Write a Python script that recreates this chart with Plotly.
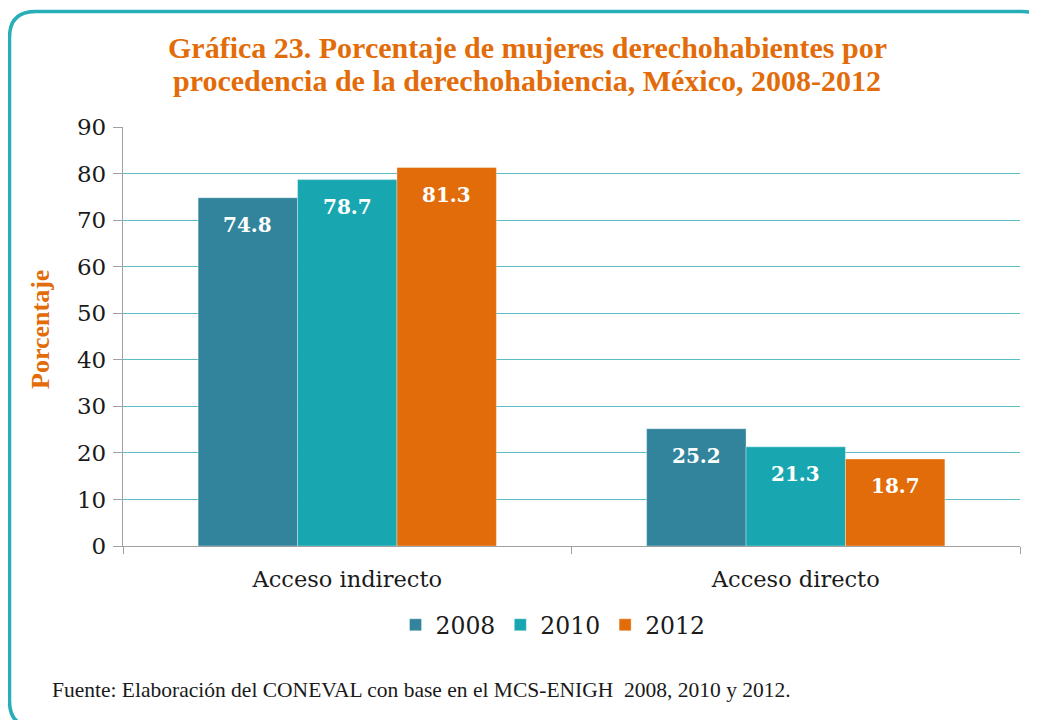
import plotly.graph_objects as go

categories = ["Acceso indirecto", "Acceso directo"]
years = ["2008", "2010", "2012"]
values_2008 = [74.8, 25.2]
values_2010 = [78.7, 21.3]
values_2012 = [81.3, 18.7]
series = [values_2008, values_2010, values_2012]
colors = ["#31849B", "#18A7B0", "#E36C0A"]
y_ticks = [0, 10, 20, 30, 40, 50, 60, 70, 80, 90]

# the page body adds an 8px margin; work in screen pixels and subtract it
OFF = 8
W, H = 1037 - OFF, 720 - OFF
L, R, T, B = 123, 1020, 127, 546  # plot area in screen pixels
ML, MR, MT, MB = L - OFF, (W + OFF) - R, T - OFF, (H + OFF) - B


def px_x(px):
    return (px - L) / (R - L)


def px_y(py):
    return (B - py) / (B - T)


SERIF = "DejaVu Serif"
TITLE_FONT = "Liberation Serif"
ORANGE = "#E36C0A"

bargap = 0.335
bar_w = (1 - bargap) / len(years)

fig = go.Figure()
for yr, vals, col in zip(years, series, colors):
    fig.add_trace(go.Bar(
        name=yr, x=categories, y=vals, marker_color=col,
        marker_line=dict(color="rgba(255,255,255,0.35)", width=1),
        hoverinfo="x+y+name",
    ))

# data labels inside bars near the top
annotations = []
for j, vals in enumerate(series):
    off = (j - (len(years) - 1) / 2) * bar_w
    for i, v in enumerate(vals):
        annotations.append(dict(
            x=i + off, y=v, xref="x", yref="y", text=f"{v:.1f}",
            showarrow=False, yshift=-27,
            font=dict(family=SERIF, size=20, color="white", weight="bold"),
        ))

# title (two lines)
title_lines = [
    "Gráfica 23. Porcentaje de mujeres derechohabientes por",
    "procedencia de la derechohabiencia, México, 2008-2012",
]
for line, yc in zip(title_lines, [48, 80]):
    annotations.append(dict(
        xref="paper", yref="paper", x=px_x(527), y=px_y(yc),
        text=line, showarrow=False, xanchor="center", yanchor="middle",
        font=dict(family=TITLE_FONT, size=30, color=ORANGE, weight="bold"),
    ))
# y axis title
annotations.append(dict(
    xref="paper", yref="paper", x=px_x(40), y=px_y(330),
    text="Porcentaje", textangle=-90, showarrow=False,
    xanchor="center", yanchor="middle",
    font=dict(family=TITLE_FONT, size=26, color=ORANGE, weight="bold"),
))
# footer
annotations.append(dict(
    xref="paper", yref="paper", x=px_x(50), y=px_y(690),
    text="Fuente: Elaboración del CONEVAL con base en el MCS-ENIGH  2008, 2010 y 2012.",
    showarrow=False, xanchor="left", yanchor="middle",
    font=dict(family=TITLE_FONT, size=21.5, color="#1a1a1a"),
))

# rounded border (screen pixels)
x0, y0, x1, y1, r = 9.5, 11.5, 1048, 727, 26
X = px_x
Y = px_y
path = (
    f"M {X(x0)},{Y(y0 + r)} Q {X(x0)},{Y(y0)} {X(x0 + r)},{Y(y0)} "
    f"L {X(x1 - r)},{Y(y0)} Q {X(x1)},{Y(y0)} {X(x1)},{Y(y0 + r)} "
    f"L {X(x1)},{Y(y1 - r)} Q {X(x1)},{Y(y1)} {X(x1 - r)},{Y(y1)} "
    f"L {X(x0 + r)},{Y(y1)} Q {X(x0)},{Y(y1)} {X(x0)},{Y(y1 - r)} Z"
)

fig.update_layout(
    width=W, height=H,
    margin=dict(l=ML, r=MR, t=MT, b=MB, pad=0),
    paper_bgcolor="white", plot_bgcolor="white",
    barmode="group", bargap=bargap, bargroupgap=0,
    annotations=annotations,
    shapes=[dict(type="path", xref="paper", yref="paper", path=path,
                 line=dict(color="#27AEB6", width=3.5), layer="above")],
    legend=dict(
        orientation="h", x=px_x(553), y=px_y(625), xanchor="center", yanchor="middle",
        font=dict(family=SERIF, size=23.5, color="#1a1a1a"),
        bgcolor="rgba(0,0,0,0)", itemclick=False, traceorder="normal",
    ),
    xaxis=dict(
        showline=True, linecolor="#A0A0A0", linewidth=1.3,
        ticks="outside", tickson="boundaries", ticklen=7, tickcolor="#A0A0A0",
        tickwidth=1.3, ticklabelstandoff=13,
        tickfont=dict(family=SERIF, size=22.5, color="#1a1a1a"),
        showgrid=False, fixedrange=True,
    ),
    yaxis=dict(
        range=[0, 90], tickvals=y_ticks, showline=True, linecolor="#A0A0A0",
        linewidth=1.3, ticks="outside", ticklen=9, tickcolor="#A0A0A0", tickwidth=1.3,
        ticklabelstandoff=2,
        tickfont=dict(family=SERIF, size=23, color="#1a1a1a"),
        showgrid=True, gridcolor="#5BBDC5", gridwidth=1.3, zeroline=False,
        fixedrange=True,
    ),
)

fig.write_html("out.html")
